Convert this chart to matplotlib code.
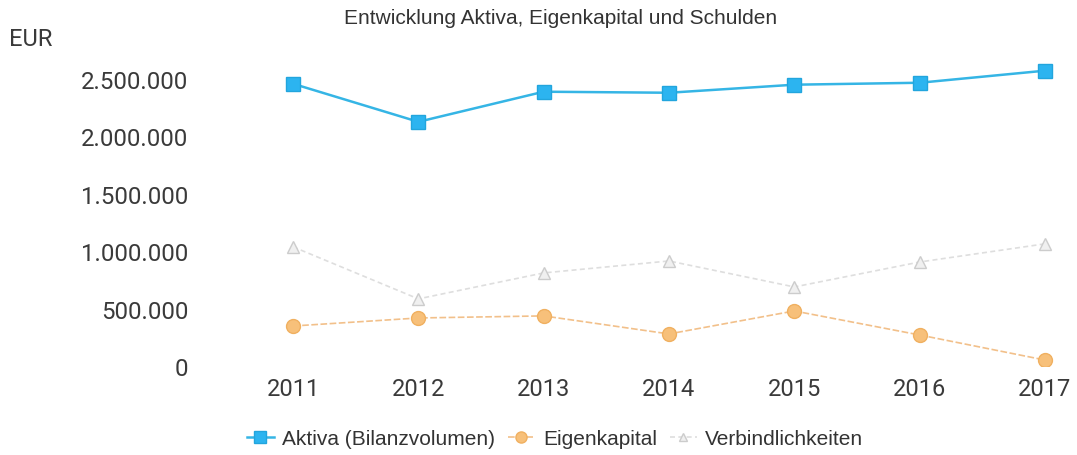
import numpy as np
import matplotlib
matplotlib.use("Agg")
import matplotlib.pyplot as plt

years = ["2011", "2012", "2013", "2014", "2015", "2016", "2017"]
aktiva = [2456000, 2125000, 2387000, 2378000, 2448000, 2465000, 2570000]
eigenkapital = [348000, 418000, 436000, 279000, 479000, 270000, 52000]
verbindlichkeiten = [1037000, 584000, 810000, 914000, 688000, 905000, 1063000]
yticks = [0, 500000, 1000000, 1500000, 2000000, 2500000]
ytick_labels = ["0", "500.000", "1.000.000", "1.500.000", "2.000.000", "2.500.000"]

W, H = 1077, 456
fig = plt.figure(figsize=(W / 100, H / 100), dpi=100)
ax = fig.add_axes([230 / W, (H - 367) / H, (1070 - 230) / W, (367 - 51) / H])

x = np.arange(len(years))
ax.plot(x, verbindlichkeiten, color="#dedede", lw=1.2, ls=(0, (3, 2)),
        marker="^", ms=8, mfc="#f0f0f0", mec="#cccccc", label="Verbindlichkeiten", zorder=2)
ax.plot(x, eigenkapital, color="#f2c08a", lw=1.2, ls=(0, (4, 1.5)),
        marker="o", ms=10, mfc="#f7c07a", mec="#f0b060", label="Eigenkapital", zorder=3)
ax.plot(x, aktiva, color="#35b5e5", lw=1.8,
        marker="s", ms=10, mfc="#2cb4f0", mec="#22a5dd", label="Aktiva (Bilanzvolumen)", zorder=4)

ax.set_xlim(-0.503, 6.2)
ax.set_ylim(0, 2750000)
ax.set_xticks(x)
ax.set_xticklabels(years, fontfamily="Roboto", fontsize=17, color="#3a3a3a")
ax.set_yticks(yticks)
ax.set_yticklabels(ytick_labels, fontfamily="Roboto", fontsize=17.3, color="#3a3a3a")
ax.tick_params(length=0)
ax.tick_params(axis="y", pad=30)
ax.tick_params(axis="x", pad=8)
for s in ax.spines.values():
    s.set_visible(False)

fig.text(561 / W, 1 - 18 / H, "Entwicklung Aktiva, Eigenkapital und Schulden",
         ha="center", va="center", fontfamily="Liberation Sans", fontsize=15, color="#333333")
fig.text(9 / W, 1 - 40 / H, "EUR", ha="left", va="center",
         fontfamily="Roboto", fontsize=17, color="#3a3a3a")

h, l = ax.get_legend_handles_labels()
leg = fig.legend(h[::-1], l[::-1], loc="center", bbox_to_anchor=(555 / W, 1 - 440 / H),
                 ncol=3, frameon=False, prop={"family": "Liberation Sans", "size": 15},
                 handlelength=1.3, handletextpad=0.4, columnspacing=0.6, markerscale=0.8)
for t in leg.get_texts():
    t.set_color("#333333")

fig.savefig("out.png", dpi=100)
